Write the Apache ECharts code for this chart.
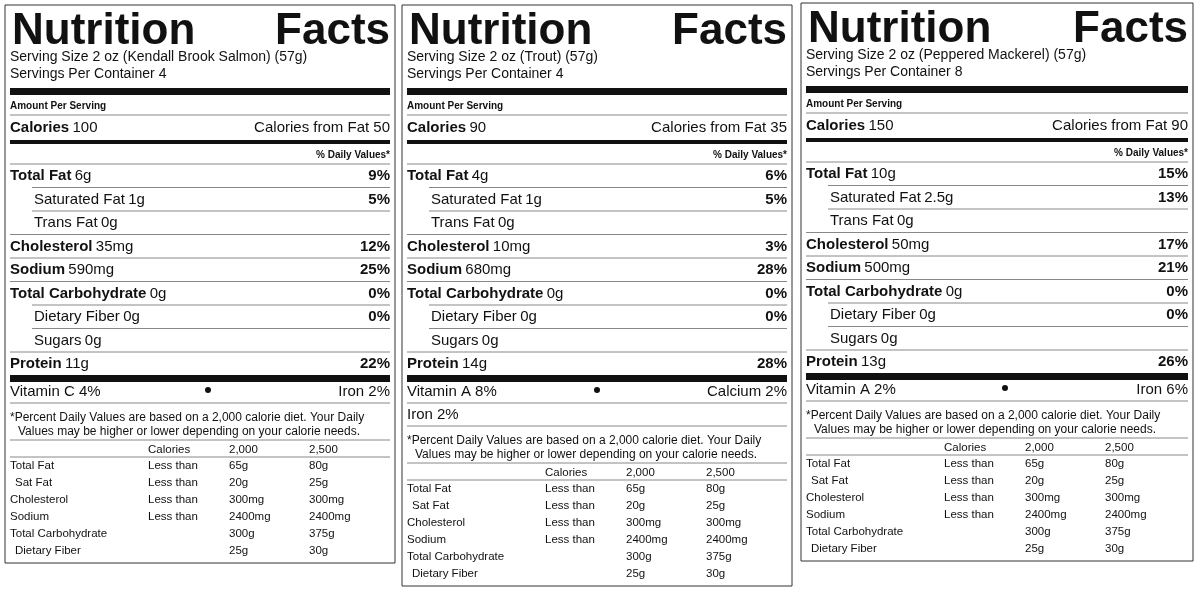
<!DOCTYPE html>
<html><head><meta charset="utf-8">
<script src="https://cdn.jsdelivr.net/npm/echarts@6/dist/echarts.min.js"></script>
<style>html,body{margin:0;background:#fff}#c{width:1200px;height:592px}</style>
</head><body><div id="c"></div>
<script>
const products = ['Kendall Brook Salmon','Trout','Peppered Mackerel'];
const servingsPerContainer = [4,4,8];
const calories = [100,90,150];
const caloriesFromFat = [50,35,90];
const nutrients = ['Total Fat','Saturated Fat','Trans Fat','Cholesterol','Sodium','Total Carbohydrate','Dietary Fiber','Sugars','Protein'];
const nutrientBold = [1,0,0,1,1,1,0,0,1];
const salmonAmt = ['6g','1g','0g','35mg','590mg','0g','0g','0g','11g'];
const salmonPct = ['9%','5%','','12%','25%','0%','0%','','22%'];
const troutAmt = ['4g','1g','0g','10mg','680mg','0g','0g','0g','14g'];
const troutPct = ['6%','5%','','3%','28%','0%','0%','','28%'];
const mackerelAmt = ['10g','2.5g','0g','50mg','500mg','0g','0g','0g','13g'];
const mackerelPct = ['15%','13%','','17%','21%','0%','0%','','26%'];
const vitLeft = ['Vitamin C 4%','Vitamin A 8%','Vitamin A 2%'];
const vitRight = ['Iron 2%','Calcium 2%','Iron 6%'];
const vitExtra = ['', 'Iron 2%', ''];
const tableRows = ['Total Fat','Sat Fat','Cholesterol','Sodium','Total Carbohydrate','Dietary Fiber'];
const tableLess = ['Less than','Less than','Less than','Less than','',''];
const table2000 = ['65g','20g','300mg','2400mg','300g','25g'];
const table2500 = ['80g','25g','300mg','2400mg','375g','30g'];

const amts=[salmonAmt,troutAmt,mackerelAmt], pcts=[salmonPct,troutPct,mackerelPct];
const panelX=[5,402,801], panelW=[390,390,392], panelY=[5,5,3];
const F='"Liberation Sans", Arial, sans-serif';
const els=[];
function T(x,y,text,size,bold,align){els.push({type:'text',x,y,style:{text,font:(bold?'bold ':'')+size+'px '+F,fill:'#111',textAlign:align||'left',textVerticalAlign:'middle'}});}
function R(x,y,w,h){els.push({type:'rect',shape:{x,y,width:w,height:h},style:{fill:'#111'}});}
function L(x1,x2,y){els.push({type:'line',shape:{x1,y1:y,x2,y2:y},style:{stroke:'#888',lineWidth:1}});}
products.forEach((p,i)=>{
  const x=panelX[i], w=panelW[i], y0=panelY[i], l=x+5, r=x+w-5;
  const extra = vitExtra[i]?23:0;
  const H = 558+extra;
  els.push({type:'rect',shape:{x:x,y:y0,width:w,height:H},style:{fill:'none',stroke:'#333',lineWidth:1}});
  T(l+2,y0+27,'Nutrition',44,1); T(r,y0+27,'Facts',44,1,'right');
  T(l,y0+52,'Serving Size 2 oz ('+p+') (57g)',14); T(l,y0+69,'Servings Per Container '+servingsPerContainer[i],14);
  R(l,y0+83,r-l,7);
  T(l,y0+101,'Amount Per Serving',10,1); L(l,r,y0+110);
  els.push({type:'text',x:l,y:y0+123,style:{rich:{b:{font:'bold 15px '+F,fill:'#111'},n:{font:'15px '+F,fill:'#111'}},text:'{b|Calories} {n|'+calories[i]+'}',textVerticalAlign:'middle'}});
  T(r,y0+123,'Calories from Fat '+caloriesFromFat[i],15,0,'right');
  R(l,y0+135,r-l,4);
  T(r,y0+150,'% Daily Values*',10,1,'right'); L(l,r,y0+159);
  nutrients.forEach((n,k)=>{
    const yy=y0+171+k*23.5; const b=nutrientBold[k];
    if(k>0) L(b?l:l+22,r,yy-12);
    els.push({type:'text',x:b?l:l+24,y:yy,style:{rich:{b:{font:(b?'bold ':'')+'15px '+F,fill:'#111'},n:{font:'15px '+F,fill:'#111'}},text:'{b|'+n+'} {n|'+amts[i][k]+'}',textVerticalAlign:'middle'}});
    if(pcts[i][k]) T(r,yy,pcts[i][k],15,1,'right');
  });
  R(l,y0+370,r-l,7);
  T(l,y0+387,vitLeft[i],15); T(r,y0+387,vitRight[i],15,0,'right');
  els.push({type:'circle',shape:{cx:x+w/2+(i==1?0:8),cy:y0+385,r:3},style:{fill:'#111'}});
  L(l,r,y0+398);
  let yb=y0+398;
  if(extra){T(l,y0+410,vitExtra[i],15); L(l,r,y0+421); yb=y0+421;}
  T(l,yb+15,'*Percent Daily Values are based on a 2,000 calorie diet. Your Daily',12);
  T(l+8,yb+29,'Values may be higher or lower depending on your calorie needs.',12);
  L(l,r,yb+37);
  T(l+138,yb+47,'Calories',11.5); T(l+219,yb+47,'2,000',11.5); T(l+299,yb+47,'2,500',11.5);
  L(l,r,yb+54);
  tableRows.forEach((t,k)=>{
    const yy=yb+63+k*17;
    T(k==1||k==5?l+5:l,yy,t,11.5); T(l+138,yy,tableLess[k],11.5); T(l+219,yy,table2000[k],11.5); T(l+299,yy,table2500[k],11.5);
  });
});
const chart=echarts.init(document.getElementById('c'));
chart.setOption({backgroundColor:'#fff',animation:false,graphic:{elements:els}});
</script></body></html>
